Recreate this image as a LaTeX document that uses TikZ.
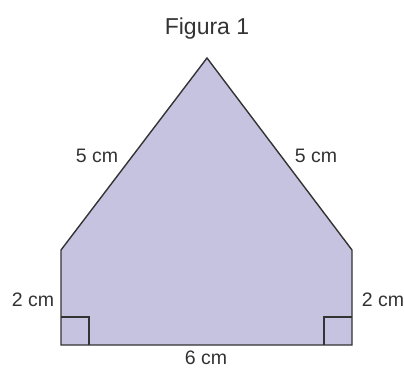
\documentclass[tikz,border=0pt]{standalone}
\usepackage{fontspec}
\setmainfont{Liberation Sans}
\definecolor{fillc}{HTML}{C6C3E0}
\definecolor{linec}{HTML}{333333}
\definecolor{txtc}{HTML}{333333}
\begin{document}
\begin{tikzpicture}[x=1pt,y=-1pt,
  lbl/.style={text=txtc,font=\fontsize{19.5}{22}\selectfont,inner sep=0pt},
  edge/.style={draw=linec,line width=1.4pt,line join=miter}]
\useasboundingbox (0,0) rectangle (404,368);
\coordinate (bl) at (61,345);
\coordinate (br) at (352,345);
\coordinate (tr) at (352,250);
\coordinate (ap) at (207,58);
\coordinate (tl) at (61,250);
\fill[fillc] (bl) -- (br) -- (tr) -- (ap) -- (tl) -- cycle;
\draw[edge] (bl) -- (br) -- (tr) -- (ap) -- (tl) -- cycle;
\draw[draw=linec,line width=1.2pt] (61,317) -- (89,317) -- (89,345);
\draw[draw=linec,line width=1.2pt] (352,317) -- (324,317) -- (324,345);
\node[lbl,font=\fontsize{23}{26}\selectfont] (title) at (207,29) {Figura 1};
\node[lbl] (l5) at (97,156) {5 cm};
\node[lbl] (r5) at (316,156) {5 cm};
\node[lbl] (l2) at (33,300) {2 cm};
\node[lbl] (r2) at (383,300) {2 cm};
\node[lbl] (b6) at (206,358) {6 cm};
\end{tikzpicture}
\end{document}
